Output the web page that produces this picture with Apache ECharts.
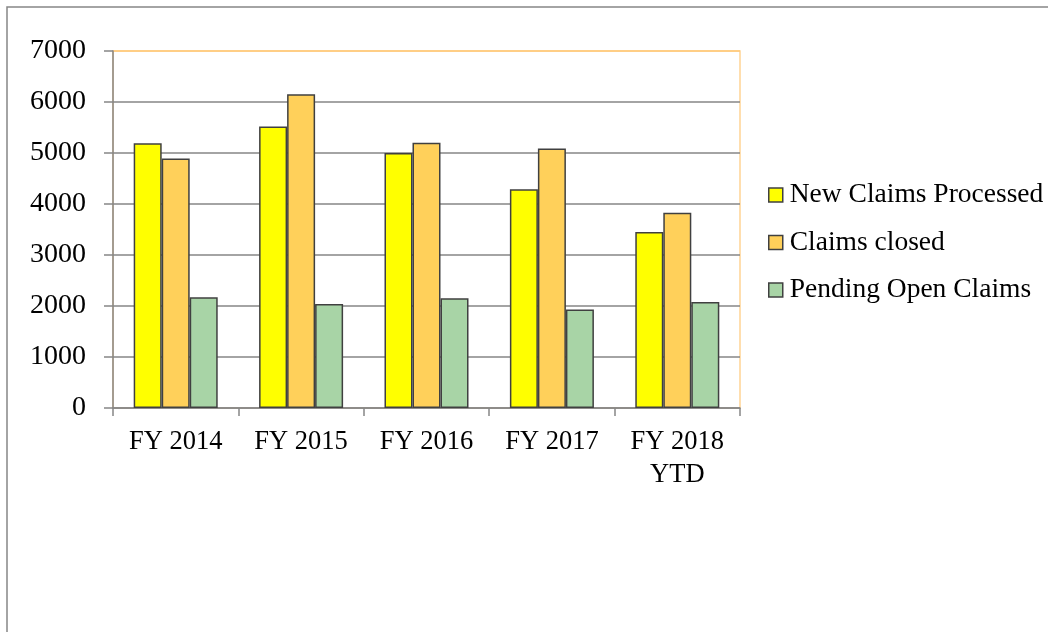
<!DOCTYPE html>
<html>
<head>
<meta charset="utf-8">
<script src="https://cdn.jsdelivr.net/npm/echarts@6/dist/echarts.min.js"></script>
<style>
html,body{margin:0;padding:0;background:#fff;}
#main{width:1048px;height:632px;}
</style>
</head>
<body>
<div id="main"></div>
<script>
var categories = ['FY 2014', 'FY 2015', 'FY 2016', 'FY 2017', 'FY 2018\nYTD'];
var newClaims = [5190, 5520, 5000, 4290, 3450];
var claimsClosed = [4890, 6150, 5200, 5090, 3830];
var pendingOpen = [2170, 2040, 2150, 1930, 2080];
var seriesNames = ['New Claims Processed', 'Claims closed', 'Pending Open Claims'];

var FONT = '"Liberation Serif", "DejaVu Serif", serif';
var gray = '#868686';
var border = '#404040';

var chart = echarts.init(document.getElementById('main'));
chart.setOption({
  animation: false,
  backgroundColor: '#fff',
  graphic: [{
    type: 'rect',
    shape: {x: 7, y: 7, width: 1200, height: 800},
    style: {fill: 'none', stroke: gray, lineWidth: 1.5},
    silent: true
  }],
  grid: {
    left: 113, top: 51, width: 627, height: 357,
    show: true, borderColor: '#FFD494', borderWidth: 1.5, backgroundColor: 'transparent'
  },
  legend: {
    orient: 'vertical',
    left: 768, top: 181, padding: 0,
    itemWidth: 14, itemHeight: 14, itemGap: 19.5,
    icon: 'rect',
    itemStyle: {borderColor: border, borderWidth: 1.5},
    textStyle: {fontFamily: FONT, fontSize: 27.5, color: '#000', lineHeight: 28, padding: [0, 0, 0, 2]},
    data: seriesNames
  },
  xAxis: {
    type: 'category',
    data: categories,
    axisLine: {lineStyle: {color: gray, width: 1.5}},
    axisTick: {show: true, length: 8, lineStyle: {color: gray, width: 1.5}},
    axisLabel: {fontFamily: FONT, fontSize: 26.5, color: '#000', margin: 18, lineHeight: 33, interval: 0}
  },
  yAxis: {
    type: 'value',
    min: 0, max: 7000, interval: 1000,
    axisLine: {show: true, lineStyle: {color: gray, width: 1.5}},
    axisTick: {show: true, length: 9, lineStyle: {color: gray, width: 1.5}},
    axisLabel: {fontFamily: FONT, fontSize: 28, color: '#000', margin: 27, formatter: function (v) { return String(v); }},
    splitLine: {show: true, lineStyle: {color: [gray, gray, gray, gray, gray, gray, gray, '#FFC878'], width: 1.5}}
  },
  series: [
    {name: seriesNames[0], type: 'bar', data: newClaims, barGap: '0%', barCategoryGap: '33%',
     itemStyle: {color: '#FFFF00', borderColor: border, borderWidth: 1.5}},
    {name: seriesNames[1], type: 'bar', data: claimsClosed, barGap: '0%', barCategoryGap: '33%',
     itemStyle: {color: '#FFD05A', borderColor: border, borderWidth: 1.5}},
    {name: seriesNames[2], type: 'bar', data: pendingOpen, barGap: '0%', barCategoryGap: '33%',
     itemStyle: {color: '#A8D4A6', borderColor: border, borderWidth: 1.5}}
  ]
});
</script>
</body>
</html>
